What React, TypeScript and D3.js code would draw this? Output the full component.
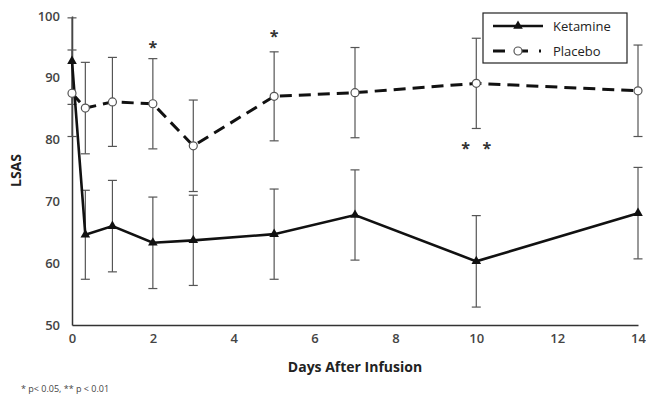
import { useEffect, useRef } from "react";
import * as d3 from "d3";

const days = [0, 0.33, 1, 2, 3, 5, 7, 10, 14];
const ketamine = [92.7, 64.6, 66.0, 63.3, 63.7, 64.7, 67.8, 60.3, 68.1];
const ketamineErr = [7.0, 7.2, 7.4, 7.4, 7.3, 7.3, 7.3, 7.4, 7.4];
const placebo = [87.5, 85.1, 86.1, 85.8, 79.0, 87.0, 87.6, 89.1, 87.9];
const placeboErr = [7.0, 7.4, 7.2, 7.3, 7.4, 7.2, 7.3, 7.3, 7.4];
const xTicks = [0, 2, 4, 6, 8, 10, 12, 14];
const yTicks = [50, 60, 70, 80, 90, 100];
// significance marks: [day, label, value at baseline]
const sigMarks: [number, string, number][] = [
  [2, "*", 94.0],
  [5, "*", 95.8],
  [10, "*   *", 77.6],
];

const W = 646;
const H = 398;
const margin = { top: 16, right: 8, bottom: 73, left: 72 };

export default function App() {
  const svgRef = useRef<SVGSVGElement>(null);

  useEffect(() => {
    const svg = d3.select(svgRef.current);
    svg.selectAll("*").remove();

    const x = d3.scaleLinear().domain([0, 14]).range([margin.left, W - margin.right]);
    const y = d3.scaleLinear().domain([50, 100]).range([H - margin.bottom, margin.top]);
    const font = "'Open Sans', sans-serif";

    // axes
    const xAxis = svg
      .append("g")
      .attr("transform", `translate(0,${y(50)})`)
      .call(d3.axisBottom(x).tickValues(xTicks).tickSize(0).tickPadding(9));
    xAxis.select(".domain").attr("stroke", "#333").attr("stroke-width", 1.5);
    xAxis.selectAll("text").attr("fill", "#444").style("font-size", "13px").style("font-weight", "600").style("font-family", font);

    const yAxis = svg
      .append("g")
      .attr("transform", `translate(${margin.left},0)`)
      .call(d3.axisLeft(y).tickValues(yTicks).tickSize(0).tickPadding(12));
    yAxis.select(".domain").attr("stroke", "#333").attr("stroke-width", 1.5);
    yAxis.selectAll("text").attr("fill", "#444").style("font-size", "13px").style("font-weight", "600").style("font-family", font);

    svg
      .append("text")
      .attr("x", (margin.left + W - margin.right) / 2)
      .attr("y", 372)
      .attr("text-anchor", "middle")
      .attr("fill", "#222")
      .style("font-family", font)
      .style("font-size", "14px")
      .style("font-weight", "700")
      .text("Days After Infusion");

    svg
      .append("text")
      .attr("transform", `translate(21,${(y(50) + y(100)) / 2}) rotate(-90)`)
      .attr("text-anchor", "middle")
      .attr("fill", "#222")
      .style("font-family", font)
      .style("font-size", "14px")
      .style("font-weight", "700")
      .text("LSAS");

    svg
      .append("text")
      .attr("x", 21)
      .attr("y", 392)
      .attr("fill", "#444")
      .style("font-family", font)
      .style("font-size", "9px")
      .text("* p< 0.05, ** p < 0.01");

    // error bars
    const drawErr = (vals: number[], errs: number[]) => {
      const g = svg.append("g").attr("stroke", "#555").attr("stroke-width", 1.2);
      days.forEach((d, i) => {
        const cx = x(d);
        const y1 = y(vals[i] + errs[i]);
        const y2 = y(vals[i] - errs[i]);
        g.append("line").attr("x1", cx).attr("x2", cx).attr("y1", y1).attr("y2", y2);
        g.append("line").attr("x1", cx - 4.5).attr("x2", cx + 4.5).attr("y1", y1).attr("y2", y1);
        g.append("line").attr("x1", cx - 4.5).attr("x2", cx + 4.5).attr("y1", y2).attr("y2", y2);
      });
    };
    drawErr(placebo, placeboErr);
    drawErr(ketamine, ketamineErr);

    const line = d3
      .line<number>()
      .x((_, i) => x(days[i]))
      .y((v) => y(v));

    svg
      .append("path")
      .attr("d", line(placebo))
      .attr("fill", "none")
      .attr("stroke", "#111")
      .attr("stroke-width", 3)
      .attr("stroke-dasharray", "12,7");

    svg
      .append("path")
      .attr("d", line(ketamine))
      .attr("fill", "none")
      .attr("stroke", "#111")
      .attr("stroke-width", 2.6);

    const tri = d3.symbol().type(d3.symbolTriangle).size(40);

    svg
      .append("g")
      .selectAll("circle")
      .data(placebo)
      .join("circle")
      .attr("cx", (_, i) => x(days[i]))
      .attr("cy", (v) => y(v))
      .attr("r", 4)
      .attr("fill", "#fff")
      .attr("stroke", "#555")
      .attr("stroke-width", 1.2);

    svg
      .append("g")
      .selectAll("path")
      .data(ketamine)
      .join("path")
      .attr("d", tri()!)
      .attr("transform", (v, i) => `translate(${x(days[i])},${y(v)})`)
      .attr("fill", "#111");

    // significance asterisks
    svg
      .append("g")
      .selectAll("text")
      .data(sigMarks)
      .join("text")
      .attr("x", (d) => x(d[0]))
      .attr("y", (d) => y(d[2]))
      .attr("text-anchor", "middle")
      .attr("fill", "#333")
      .style("font-family", font)
      .style("font-size", "16px")
      .style("font-weight", "700")
      .style("white-space", "pre")
      .text((d) => d[1]);

    // legend
    const lg = svg.append("g").attr("transform", "translate(483,13)");
    lg.append("rect").attr("width", 144).attr("height", 50).attr("fill", "#fff").attr("stroke", "#222").attr("stroke-width", 1.2);
    lg.append("line").attr("x1", 10).attr("x2", 60).attr("y1", 13).attr("y2", 13).attr("stroke", "#111").attr("stroke-width", 2.6);
    lg.append("path").attr("d", tri()!).attr("transform", "translate(35,13)").attr("fill", "#111");
    lg.append("line").attr("x1", 10).attr("x2", 58).attr("y1", 38).attr("y2", 38).attr("stroke", "#111").attr("stroke-width", 3).attr("stroke-dasharray", "12,11");
    lg.append("circle").attr("cx", 35).attr("cy", 38).attr("r", 4).attr("fill", "#fff").attr("stroke", "#555").attr("stroke-width", 1.2);
    lg.append("text").attr("x", 70).attr("y", 18).attr("fill", "#222").style("font-family", font).style("font-size", "13px").text("Ketamine");
    lg.append("text").attr("x", 70).attr("y", 43).attr("fill", "#222").style("font-family", font).style("font-size", "13px").text("Placebo");
  }, []);

  return (
    <svg
      ref={svgRef}
      width={W}
      height={H}
      style={{ position: "absolute", left: 0, top: 0, background: "#fff" }}
    />
  );
}
